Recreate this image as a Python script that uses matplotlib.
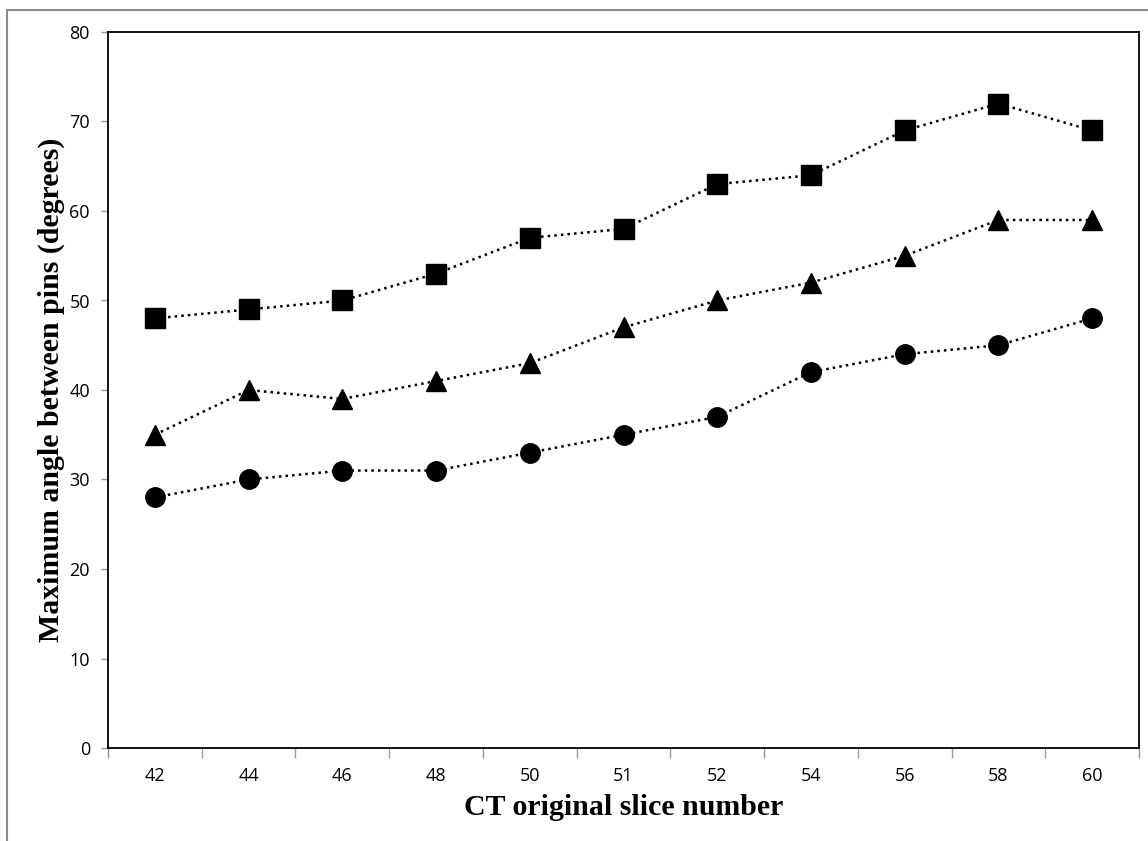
import matplotlib.pyplot as plt
from matplotlib.patches import Rectangle

slices = ['42', '44', '46', '48', '50', '51', '52', '54', '56', '58', '60']
squares = [48, 49, 50, 53, 57, 58, 63, 64, 69, 72, 69]
triangles = [35, 40, 39, 41, 43, 47, 50, 52, 55, 59, 59]
circles = [28, 30, 31, 31, 33, 35, 37, 42, 44, 45, 48]

fig = plt.figure(figsize=(11.48, 8.41), dpi=100)
ax = fig.add_axes([108 / 1148, 1 - 748 / 841, (1139 - 108) / 1148, (748 - 32) / 841])

x = list(range(len(slices)))
line_kw = dict(color='black', linestyle=':', linewidth=1.8, markersize=14)
ax.plot(x, squares, marker='s', **line_kw)
ax.plot(x, triangles, marker='^', **line_kw)
ax.plot(x, circles, marker='o', **line_kw)

ax.set_xlim(-0.5, len(slices) - 0.5)
ax.set_ylim(0, 80)
ax.set_yticks(range(0, 81, 10))

# category labels in the middle, tick marks on the boundaries
ax.set_xticks([i - 0.5 for i in range(len(slices) + 1)])
ax.set_xticklabels([])
ax.set_xticks(x, minor=True)
ax.set_xticklabels(slices, minor=True)
ax.tick_params(axis='x', which='major', length=7, color='#999999', width=1)
ax.tick_params(axis='x', which='minor', length=0, pad=14)
ax.tick_params(axis='y', length=5, color='#999999', width=1, pad=8)
for lab in ax.get_xticklabels(minor=True) + ax.get_yticklabels():
    lab.set_fontfamily('Open Sans')
    lab.set_fontsize(13)

for s in ax.spines.values():
    s.set_color('black')
    s.set_linewidth(1.3)

ax.set_xlabel('CT original slice number', fontfamily='Liberation Serif',
              fontweight='bold', fontsize=21.5, labelpad=6)
ax.set_ylabel('Maximum angle between pins (degrees)', fontfamily='Liberation Serif',
              fontweight='bold', fontsize=21.5, labelpad=3)

fig.patches.append(Rectangle((7 / 1148, -0.1), 1.2, 1 - 10 / 841 + 0.1,
                             transform=fig.transFigure, fill=False,
                             edgecolor='#8c8c8c', linewidth=1.5))

fig.savefig('out.png', dpi=100)
